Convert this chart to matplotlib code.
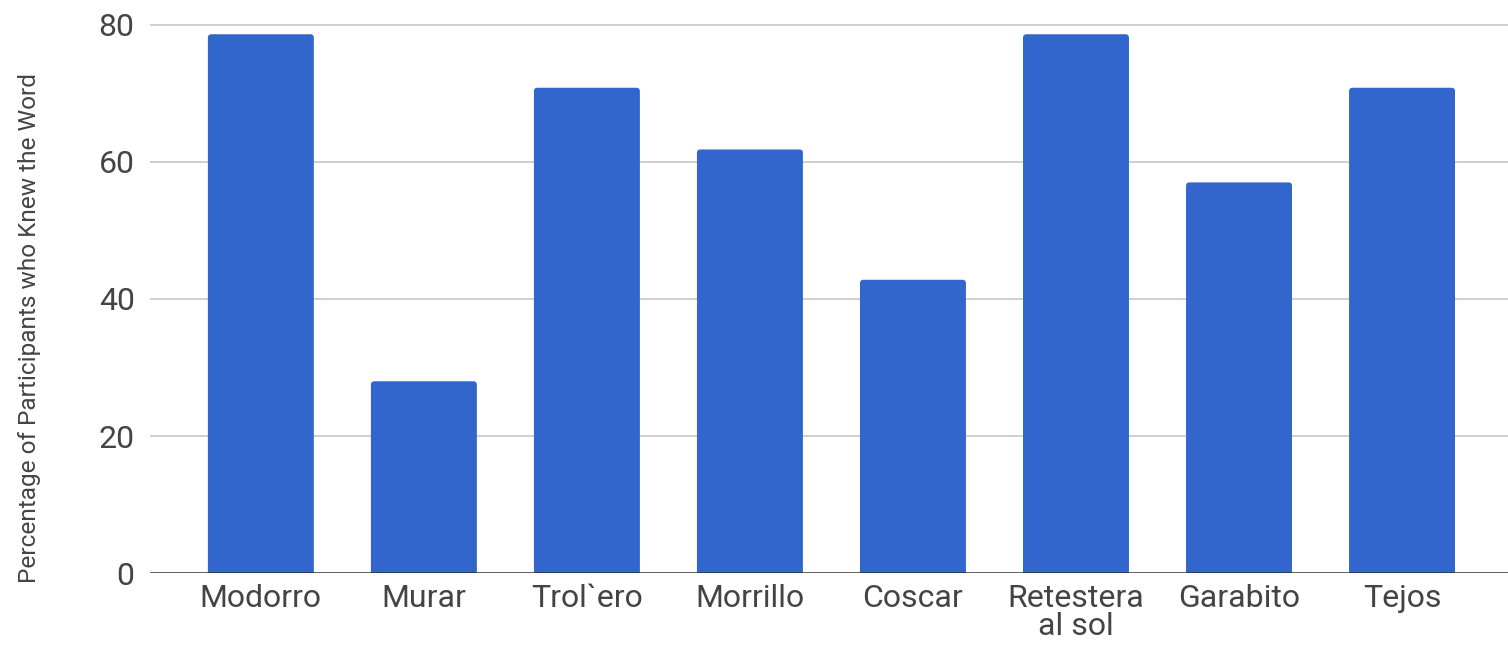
import matplotlib
matplotlib.use("Agg")
import matplotlib.pyplot as plt
from matplotlib.patches import FancyBboxPatch

words = ["Modorro", "Murar", "Trol`ero", "Morrillo", "Coscar",
         "Retestera\nal sol", "Garabito", "Tejos"]
percent_knew = [78.6, 28.0, 70.8, 61.8, 42.8, 78.6, 57.0, 70.8]
y_ticks = [0, 20, 40, 60, 80]

bar_color = "#3366cc"
text_color = "#444444"

plt.rcParams["font.family"] = ["Roboto", "DejaVu Sans"]

W, H = 1508, 646
fig = plt.figure(figsize=(W / 100, H / 100), dpi=100)
ax_left, ax_bottom, ax_top = 150, 573.3, 17.8
ax = fig.add_axes([ax_left / W, (H - ax_bottom) / H,
                   (W - ax_left) / W, (ax_bottom - ax_top) / H])

x_min, x_max = -0.68, 7.65
y_min, y_max = 0, 81
ax.set_xlim(x_min, x_max)
ax.set_ylim(y_min, y_max)

x = list(range(len(words)))
bars = ax.bar(x, percent_knew, width=0.65, color=bar_color, zorder=3)

# swap the plain rectangles for ones with softly rounded top corners
px_per_x = (W - ax_left) / (x_max - x_min)
px_per_y = (ax_bottom - ax_top) / (y_max - y_min)
radius_px = 3.5
for rect in bars.patches:
    rx, ry = rect.get_x(), rect.get_y()
    rw, rh = rect.get_width(), rect.get_height()
    rect.set_visible(False)
    drop = 1.0  # push the lower corners below the baseline
    rounded = FancyBboxPatch(
        (rx, ry - drop), rw, rh + drop,
        boxstyle=f"round,pad=0,rounding_size={radius_px / px_per_x}",
        mutation_aspect=px_per_x / px_per_y,
        facecolor=bar_color, edgecolor="none", zorder=3)
    ax.add_patch(rounded)

ax.set_yticks(y_ticks)
ax.set_xticks(x)
ax.set_xticklabels(words, fontsize=23, color=text_color, linespacing=0.92)
ax.set_yticklabels([str(t) for t in y_ticks], fontsize=23, color=text_color)

for t in y_ticks[1:]:
    ax.axhline(t, color="#cccccc", linewidth=1.3, zorder=1)
ax.axhline(0, color="#333333", linewidth=1.8, zorder=4)

for side in ["top", "right", "left", "bottom"]:
    ax.spines[side].set_visible(False)
ax.tick_params(axis="both", length=0)
ax.tick_params(axis="x", pad=8)
ax.tick_params(axis="y", pad=11)

ax.set_ylabel("Percentage of Participants who Knew the Word",
              fontsize=17.6, color=text_color)
ax.yaxis.set_label_coords(-0.080, (ax_bottom - 328) / (ax_bottom - ax_top))

fig.savefig("out.png", dpi=100)
